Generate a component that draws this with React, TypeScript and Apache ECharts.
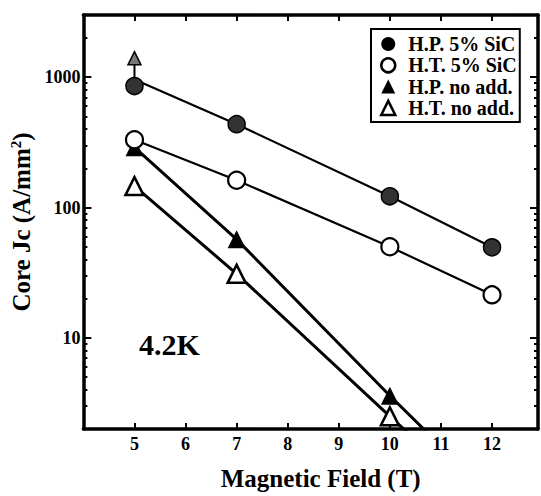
import React, { useEffect, useRef } from "react";
import * as echarts from "echarts";

// ---- data ----
const fields = [5, 7, 10, 12];
const hpSiC = [855, 436, 122, 49.5];
const htSiC = [331, 162, 50, 21.4];
const hpSiCLine = [960, 436, 122, 49.5];
const htSiCLine = [331, 162, 50, 21.4];
const triFields = [5, 7, 10];
const hpNoAdd = [290, 57, 3.6];
const htNoAdd = [146, 31, 2.5];
const triLineFields = [5, 7, 10, 11];
const hpNoAddLine = [290, 57, 3.6, 1.48];
const htNoAddLine = [146, 31, 2.5, 1.1];
const arrowField = 5;
const arrowShaft = [880, 1300];
const arrowHead = 1400;
const xTicks = [5, 6, 7, 8, 9, 10, 11, 12];
const yMajor = [10, 100, 1000];
const yMinor = [
  2, 3, 4, 5, 6, 7, 8, 9, 20, 30, 40, 50, 60, 70, 80, 90, 200, 300, 400, 500,
  600, 700, 800, 900, 2000, 3000,
];
const seriesNames = ["H.P. 5% SiC", "H.T. 5% SiC", "H.P. no add.", "H.T. no add."];

const FONT = "Liberation Serif";

const zip = (xs: number[], ys: number[]) => xs.map((x, i) => [x, ys[i]]);

export default function App() {
  const ref = useRef<HTMLDivElement>(null);
  useEffect(() => {
    document.body.style.margin = "0";
    const chart = echarts.init(ref.current!, null, { renderer: "svg" });
    const axisLine = { show: true, lineStyle: { color: "#000", width: 3.5 } };
    const xBase = {
      type: "value",
      min: 4,
      max: 12.9,
      interval: 1,
      splitLine: { show: false },
      axisLine,
    };
    const yBase = {
      type: "log",
      logBase: 10,
      min: 2,
      max: 3000,
      splitLine: { show: false },
      minorTick: { show: false },
    };
    const labelStyle = {
      fontFamily: FONT,
      fontWeight: "bold",
      fontSize: 18,
      color: "#000",
    };
    const option: any = {
      animation: false,
      grid: { left: 83, top: 15, right: 3, bottom: 63, containLabel: false },
      legend: {
        orient: "vertical",
        left: 371,
        top: 29,
        itemWidth: 14,
        itemHeight: 14,
        itemGap: 1.3,
        symbolKeepAspect: true,
        padding: [5, 3, 4, 9],
        borderColor: "#000",
        borderWidth: 2,
        backgroundColor: "#fff",
        selectedMode: false,
        textStyle: { ...labelStyle, fontSize: 20, lineHeight: 20, padding: [0, 0, 0, 8] },
        data: [
          { name: seriesNames[0], icon: "circle", itemStyle: { color: "#000", borderWidth: 0 } },
          { name: seriesNames[1], icon: "circle", itemStyle: { color: "#fff", borderColor: "#000", borderWidth: 2.5 } },
          { name: seriesNames[2], icon: "triangle", itemStyle: { color: "#000", borderWidth: 0 } },
          { name: seriesNames[3], icon: "triangle", itemStyle: { color: "#fff", borderColor: "#000", borderWidth: 2.5 } },
        ],
      },
      xAxis: [
        {
          ...xBase,
          position: "bottom",
          axisTick: { show: true, inside: true, length: 6, customValues: xTicks, lineStyle: { color: "#000", width: 2 } },
          axisLabel: { ...labelStyle, margin: 6, customValues: xTicks },
          name: "Magnetic Field (T)",
          nameLocation: "middle",
          nameGap: 37,
          nameTextStyle: { ...labelStyle, fontSize: 25, padding: [0, 0, 0, 20] },
        },
        {
          ...xBase,
          position: "top",
          axisTick: { show: true, inside: true, length: 6, customValues: xTicks, lineStyle: { color: "#000", width: 2 } },
          axisLabel: { show: false },
        },
      ],
      yAxis: [
        {
          ...yBase,
          position: "left",
          axisLine,
          axisTick: { show: true, inside: true, length: 8, customValues: yMajor, lineStyle: { color: "#000", width: 2 } },
          axisLabel: { ...labelStyle, margin: 3, customValues: yMajor, formatter: (v: number) => String(v) },
          name: "Core Jc (A/mm{sup|2})",
          nameLocation: "middle",
          nameGap: 40,
          nameTextStyle: {
            ...labelStyle,
            fontSize: 25,
            rich: {
              sup: { fontFamily: FONT, fontWeight: "bold", fontSize: 15, color: "#000", verticalAlign: "top", lineHeight: 26 },
            },
          },
        },
        {
          ...yBase,
          position: "left",
          axisLine: { show: false },
          axisTick: { show: true, inside: true, length: 4, customValues: yMinor, lineStyle: { color: "#000", width: 2 } },
          axisLabel: { show: false },
        },
        {
          ...yBase,
          position: "right",
          axisLine,
          axisTick: { show: true, inside: true, length: 8, customValues: yMajor, lineStyle: { color: "#000", width: 2 } },
          axisLabel: { show: false },
        },
        {
          ...yBase,
          position: "right",
          axisLine: { show: false },
          axisTick: { show: true, inside: true, length: 4, customValues: yMinor, lineStyle: { color: "#000", width: 2 } },
          axisLabel: { show: false },
        },
      ],
      graphic: [
        {
          type: "text",
          left: 139,
          top: 329,
          style: { text: "4.2K", fontFamily: FONT, fontWeight: "bold", fontSize: 30, fill: "#000" },
        },
      ],
      series: [
        {
          type: "line",
          name: "fit1",
          data: zip(fields, hpSiCLine),
          symbol: "none",
          lineStyle: { color: "#000", width: 2.2 },
          silent: true,
          z: 2,
        },
        {
          type: "line",
          name: "fit2",
          data: zip(fields, htSiCLine),
          symbol: "none",
          lineStyle: { color: "#000", width: 2.2 },
          silent: true,
          z: 2,
        },
        {
          type: "line",
          name: "fit3",
          data: zip(triLineFields, hpNoAddLine),
          symbol: "none",
          lineStyle: { color: "#000", width: 3 },
          silent: true,
          z: 2,
        },
        {
          type: "line",
          name: "fit4",
          data: zip(triLineFields, htNoAddLine),
          symbol: "none",
          lineStyle: { color: "#000", width: 3 },
          silent: true,
          z: 2,
        },
        {
          type: "line",
          name: "arrow",
          data: arrowShaft.map((v) => [arrowField, v]),
          symbol: "none",
          lineStyle: { color: "#000", width: 2 },
          silent: true,
          z: 2,
        },
        {
          type: "scatter",
          name: "arrowHead",
          data: [[arrowField, arrowHead]],
          symbol: "triangle",
          symbolSize: [13, 13],
          itemStyle: { color: "#777", borderColor: "#000", borderWidth: 1.5, opacity: 1 },
          silent: true,
          z: 3,
        },
        {
          type: "scatter",
          name: seriesNames[3],
          data: zip(triFields, htNoAdd),
          symbol: "triangle",
          symbolSize: 18,
          itemStyle: { color: "#fff", borderColor: "#000", borderWidth: 2.5, opacity: 1 },
          z: 3,
        },
        {
          type: "scatter",
          name: seriesNames[2],
          data: zip(triFields, hpNoAdd),
          symbol: "triangle",
          symbolSize: 18,
          itemStyle: { color: "#000", opacity: 1 },
          z: 3,
        },
        {
          type: "scatter",
          name: seriesNames[1],
          data: zip(fields, htSiC),
          symbol: "circle",
          symbolSize: 17,
          itemStyle: { color: "#fff", borderColor: "#000", borderWidth: 2.2, opacity: 1 },
          z: 4,
        },
        {
          type: "scatter",
          name: seriesNames[0],
          data: zip(fields, hpSiC),
          symbol: "circle",
          symbolSize: 17,
          itemStyle: { color: "#333", borderColor: "#000", borderWidth: 1.5, opacity: 1 },
          z: 4,
        },
      ],
    };
    chart.setOption(option);
    return () => chart.dispose();
  }, []);
  return <div ref={ref} style={{ width: 541, height: 496 }} />;
}
